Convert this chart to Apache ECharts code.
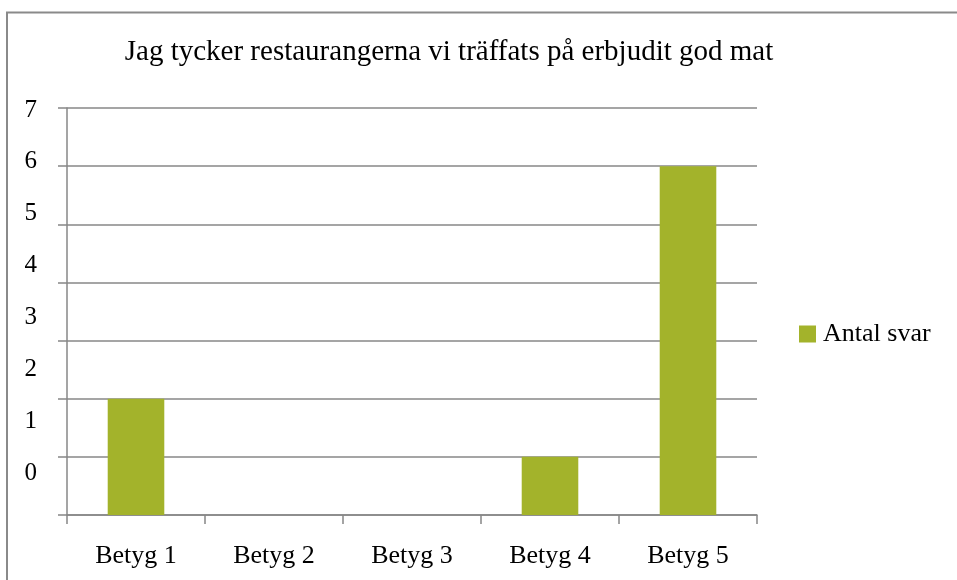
<!DOCTYPE html>
<html><head><meta charset="utf-8">
<script src="https://cdn.jsdelivr.net/npm/echarts@6/dist/echarts.min.js"></script>
<style>html,body{margin:0;padding:0;background:#fff}#c{width:957px;height:580px}</style>
</head><body><div id="c"></div>
<script>
const categories = ['Betyg 1','Betyg 2','Betyg 3','Betyg 4','Betyg 5'];
const antalSvar = [2, 0, 0, 1, 6];
const seriesName = 'Antal svar';
const titleText = 'Jag tycker restaurangerna vi träffats på erbjudit god mat';

const font = '"Liberation Serif", "Times New Roman", serif';
const gridColor = '#878787';
const chart = echarts.init(document.getElementById('c'));
chart.setOption({
  animation: false,
  backgroundColor: '#fff',
  textStyle: { fontFamily: font },
  title: {
    text: titleText, left: 449, top: 38, textAlign: 'center', padding: 0,
    textStyle: { fontFamily: font, fontSize: 29, fontWeight: 'normal', color: '#000' }
  },
  legend: {
    data: [seriesName], left: 799, top: 321, itemWidth: 17, itemHeight: 17, icon: 'rect', padding: 0,
    textStyle: { fontFamily: font, fontSize: 26, color: '#000', padding: [0,0,0,2] }
  },
  graphic: [{
    type: 'polyline', shape: { points: [[7,580],[7,12.5],[957,12.5]] },
    style: { stroke: '#8a8a8a', lineWidth: 2, fill: null }, silent: true
  }],
  grid: [
    { left: 67, top: 108, width: 690, height: 407 },
    { left: 67, top: 110, width: 690, height: 363 }
  ],
  xAxis: [
    { type: 'category', data: categories, gridIndex: 0,
      axisLine: { lineStyle: { color: gridColor, width: 1.5 } },
      axisTick: { show: true, length: 9, alignWithLabel: false, lineStyle: { color: gridColor, width: 1.5 } },
      axisLabel: { fontFamily: font, fontSize: 26, color: '#000', margin: 28 } },
    { type: 'category', data: categories, gridIndex: 1, show: false }
  ],
  yAxis: [
    { type: 'value', gridIndex: 0, min: 0, max: 7, interval: 1,
      axisLine: { show: true, lineStyle: { color: gridColor, width: 1.5 } },
      axisTick: { show: true, inside: false, length: 9, lineStyle: { color: gridColor, width: 1.5 } },
      splitLine: { show: true, lineStyle: { color: gridColor, width: 1.5 } },
      axisLabel: { show: false } },
    { type: 'value', gridIndex: 1, min: 0, max: 7, interval: 1,
      axisLine: { show: false }, axisTick: { show: false }, splitLine: { show: false },
      axisLabel: { fontFamily: font, fontSize: 25, color: '#000', margin: 30 } }
  ],
  series: [{
    name: seriesName, type: 'bar', data: antalSvar, xAxisIndex: 0, yAxisIndex: 0,
    barCategoryGap: '59%', itemStyle: { color: '#a3b32b' }
  }]
});
</script></body></html>
